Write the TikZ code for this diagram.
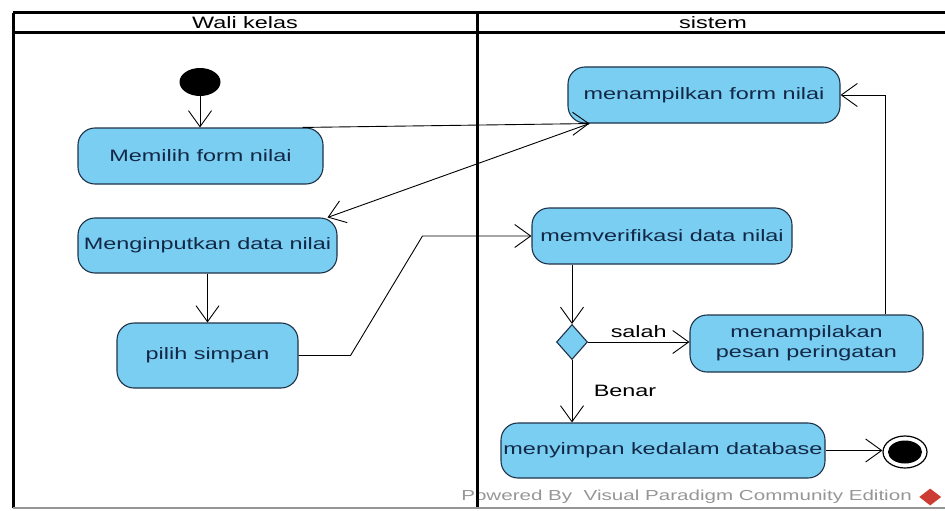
\documentclass[tikz,border=0pt]{standalone}
\usepackage{fontspec}
\setmainfont{Liberation Sans}[FakeStretch=1.42]
\usetikzlibrary{
    arrows.meta,
    positioning,
    shapes.geometric
}
\definecolor{vpblue}{RGB}{122,206,242}
\definecolor{vpline}{RGB}{30,50,72}
\definecolor{vptext}{RGB}{18,40,70}
\definecolor{vpgray}{RGB}{150,150,150}
\definecolor{vpred}{RGB}{205,60,50}

\begin{document}
\begin{tikzpicture}[
        x=1pt, y=-1pt,
        >={Straight Barb[length=16pt, width=23pt]},
        action/.style={draw=vpline, line width=1.1pt, fill=vpblue, rounded corners=17pt, inner sep=0pt, font=\fontsize{16.5}{20}\selectfont, text=vptext, align=center},
        flow/.style={->, line width=0.9pt},
        lane/.style={line width=3pt},
        guard/.style={font=\fontsize{16.5}{20}\selectfont}
    ]
        \useasboundingbox (0,0) rectangle (945,511);

        % Watermark
        \node[anchor=east, text=vpgray, font=\fontsize{14.5}{17}\selectfont, inner sep=0pt] (powered) at (912,497) {Powered By\ \ Visual Paradigm Community Edition};
        \node[diamond, fill=vpred, minimum width=22pt, minimum height=17pt, inner sep=0pt, right=7pt of powered] (vplogo) {};

        % Swimlanes
        \draw[lane] (13,13) -- (949,13);
        \draw[lane] (13,33) -- (949,33);
        \draw[lane] (13,13) -- (13,508);
        \draw[lane] (477,13) -- (477,508);
        \draw[vpgray, line width=2pt] (13,508) -- (949,508);
        \node[guard] (walikelas) at (245,23) {Wali kelas};
        \node[guard] (sistem) at (713,23) {sistem};

        % Wali kelas
        \node[ellipse, fill=black, minimum width=41pt, minimum height=28pt, inner sep=0pt] (start) at (200,82) {};
        \node[action, minimum width=245pt, minimum height=56pt] (pilihform) at (200.5,156) {Memilih form nilai};
        \node[action, minimum width=259pt, minimum height=55pt] (menginput) at (207.5,245.5) {Menginputkan data nilai};
        \node[action, minimum width=181pt, minimum height=65pt] (simpan) at (207.5,355.5) {pilih simpan};

        % sistem
        \node[action, minimum width=272pt, minimum height=56pt] (tampilform) at (704,95) {menampilkan form nilai};
        \node[action, minimum width=260pt, minimum height=56pt] (verifikasi) at (662,236) {memverifikasi data nilai};
        \node[diamond, draw=vpline, fill=vpblue, line width=1.1pt, minimum width=31pt, minimum height=35pt, inner sep=0pt] (decide) at (572,342) {};
        \node[action, minimum width=233pt, minimum height=57pt] (peringatan) at (806.5,343.5) {menampilakan\\pesan peringatan};
        \node[action, minimum width=324pt, minimum height=55pt] (simpandb) at (663,450.5) {menyimpan kedalam database};
        \node[ellipse, draw, line width=1.2pt, minimum width=44pt, minimum height=32pt, inner sep=0pt] (finish) at (905,452) {};
        \node[ellipse, fill=black, minimum width=34pt, minimum height=23pt, inner sep=0pt] (finishdot) at (finish) {};

        % Flows
        \draw[flow] (start) -- (start |- pilihform.north);
        \draw[flow] ([xshift=-21pt]pilihform.north east) -- ([xshift=22pt]tampilform.south west);
        \draw[flow] ([xshift=22pt]tampilform.south west) -- ([xshift=-10pt]menginput.north east);
        \draw[flow] (menginput) -- (simpan);
        \draw[flow] (simpan.east) -- ++(52,0) -- ([xshift=-109pt]verifikasi.west) -- (verifikasi.west);
        \draw[flow] (verifikasi.south -| decide) -- (decide.north);
        \draw[flow] (decide.east) -- (decide.east -| peringatan.west) node[guard, midway, above=1pt] {salah};
        \draw[flow] (decide.south) -- (decide.south |- simpandb.north) node[guard, midway, right=18pt] {Benar};
        \draw[flow] ([xshift=79pt]peringatan.north) |- (tampilform.east);
        \draw[flow] (simpandb.east) -- (simpandb.east -| finish.west);
    \end{tikzpicture}
\end{document}
